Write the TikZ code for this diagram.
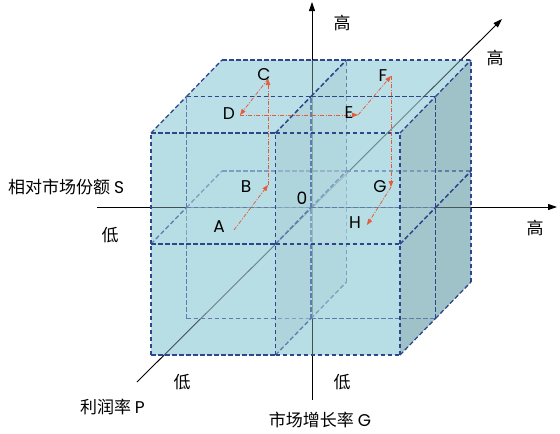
\documentclass[tikz,border=0pt]{standalone}
\usepackage{fontspec}
\setmainfont{Poppins}
\newfontfamily\cjk{Noto Sans CJK SC}
\usetikzlibrary{arrows.meta,calc}
\definecolor{faceL}{RGB}{183,221,229}
\definecolor{faceT}{RGB}{192,227,233}
\definecolor{faceD}{RGB}{158,194,199}
\definecolor{edgecol}{RGB}{45,70,140}
\definecolor{pathcol}{RGB}{228,92,60}
\begin{document}
\begin{tikzpicture}[x=1pt,y=-1pt,
  cubeedge/.style={draw=edgecol, line width=1.3pt, dash pattern=on 4.5pt off 2.5pt},
  frontface/.style={fill=faceL, fill opacity=0.36},
  topface/.style={fill=faceT, fill opacity=0.36},
  rightface/.style={fill=faceD, fill opacity=0.45},
  axisline/.style={draw=black, line width=0.9pt, -{Triangle[length=9pt,width=6pt]}},
  redpath/.style={draw=pathcol, line width=0.75pt, dash pattern=on 4pt off 1.5pt on 1pt off 1.5pt, -{Triangle[length=6pt,width=4.5pt]}},
  lab/.style={font=\fontsize{17}{20}\selectfont, inner sep=0pt},
  cjklab/.style={font=\cjk\fontsize{17}{20}\selectfont, inner sep=0pt}]
\useasboundingbox (0,0) rectangle (560,434);
% lattice points of the 2x2x2 cube
\foreach \i in {0,1,2}{\foreach \j in {0,1,2}{\foreach \k in {0,1,2}{
  \coordinate (p\i\j\k) at ({151+124.5*\i+35.5*\k},{355-111*\j-36.5*\k});
}}}
% base fill
\fill[faceL] (p000) -- (p200) -- (p220) -- (p222) -- (p022) -- (p020) -- cycle;
\fill[faceD] (p200) -- (p202) -- (p222) -- (p220) -- cycle;
% axes
\coordinate (hL) at (97,207);
\coordinate (hR) at (557,207);
\coordinate (vB) at (312,400);
\coordinate (vT) at (312,2);
\coordinate (dB) at (137,382);
\coordinate (dT) at (502,19);
\draw[axisline] (hL) -- (hR);
\draw[axisline] (vB) -- (vT);
\draw[axisline] (dB) -- (dT);
% sub-cubes, back to front
\foreach \k in {1,0}{\foreach \j in {0,1}{\foreach \i in {0,1}{
  \pgfmathtruncatemacro{\ii}{\i+1}
  \pgfmathtruncatemacro{\jj}{\j+1}
  \pgfmathtruncatemacro{\kk}{\k+1}
  \fill[rightface] (p\ii\j\k) -- (p\ii\j\kk) -- (p\ii\jj\kk) -- (p\ii\jj\k) -- cycle;
  \fill[topface] (p\i\jj\k) -- (p\ii\jj\k) -- (p\ii\jj\kk) -- (p\i\jj\kk) -- cycle;
  \fill[frontface] (p\i\j\k) -- (p\ii\j\k) -- (p\ii\jj\k) -- (p\i\jj\k) -- cycle;
  % edges, each in a fixed direction so shared edges coincide
  \draw[cubeedge] (p\i\j\k) -- (p\ii\j\k);
  \draw[cubeedge] (p\i\jj\k) -- (p\ii\jj\k);
  \draw[cubeedge] (p\i\j\k) -- (p\i\jj\k);
  \draw[cubeedge] (p\ii\j\k) -- (p\ii\jj\k);
  \draw[cubeedge] (p\i\jj\kk) -- (p\ii\jj\kk);
  \draw[cubeedge] (p\i\jj\k) -- (p\i\jj\kk);
  \draw[cubeedge] (p\ii\jj\k) -- (p\ii\jj\kk);
  \draw[cubeedge] (p\ii\j\kk) -- (p\ii\jj\kk);
  \draw[cubeedge] (p\ii\j\k) -- (p\ii\j\kk);
}}}
% red route
\coordinate (ra) at (234,230);
\coordinate (rb) at (268,185);
\coordinate (rc) at (268,79);
\coordinate (rd) at (240,115);
\coordinate (re) at (358,115);
\coordinate (rf) at (391,76);
\coordinate (rg) at (391,187);
\coordinate (rh) at (367,225);
\draw[redpath] (ra) -- (rb);
\draw[redpath] (rb) -- (rc);
\draw[redpath] (rc) -- (rd);
\draw[redpath] (rd) -- (re);
\draw[redpath] (re) -- (rf);
\draw[redpath] (rf) -- (rg);
\draw[redpath] (rg) -- (rh);
% point labels
\node[lab] (lA) at (219,227) {A};
\node[lab] (lB) at (246,187) {B};
\node[lab] (lC) at (264,75) {C};
\node[lab] (lD) at (229,114) {D};
\node[lab] (lE) at (349,113) {E};
\node[lab] (lF) at (383,76) {F};
\node[lab] (lG) at (380,187) {G};
\node[lab] (lH) at (355,223) {H};
\node[lab] (l0) at (302,198) {0};
% axis labels
\node[cjklab] (hi1) at (342,23) {高};
\node[cjklab] (hi2) at (495,58) {高};
\node[cjklab] (hi3) at (535,228) {高};
\node[cjklab] (lo1) at (110,235) {低};
\node[cjklab] (lo2) at (182,382) {低};
\node[cjklab] (lo3) at (342,382) {低};
\node[cjklab, anchor=west] (sS) at (8,187) {相对市场份额 {\fontspec{Poppins}S}};
\node[cjklab, anchor=east] (sP) at (145,407) {利润率 {\fontspec{Poppins}P}};
\node[cjklab] (sG) at (320,420) {市场增长率 {\fontspec{Poppins}G}};
\end{tikzpicture}
\end{document}
